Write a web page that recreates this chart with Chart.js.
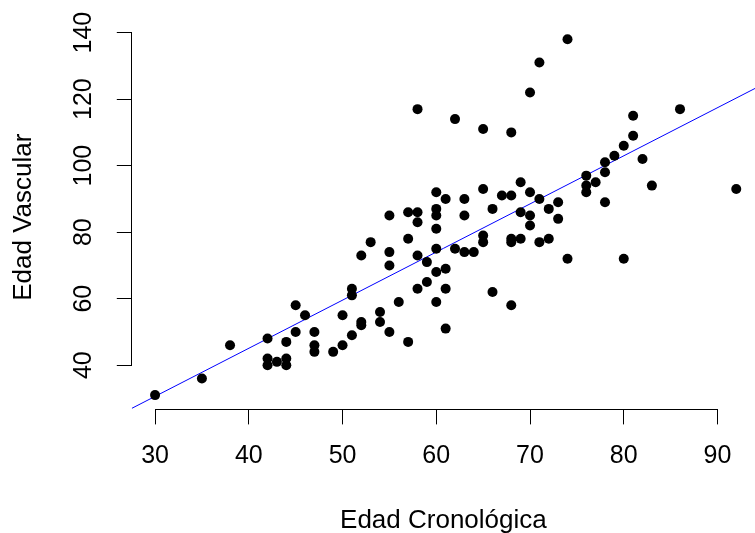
<!DOCTYPE html>
<html>
<head>
<meta charset="utf-8">
<script src="https://cdn.jsdelivr.net/npm/chart.js@4/dist/chart.umd.min.js"></script>
<style>
  html, body { margin: 0; padding: 0; background: #fff; overflow: hidden; }
  #grafico { display: block; }
</style>
</head>
<body>
<canvas id="grafico" width="755" height="533"></canvas>
<script>
// Datos: edad cronologica (x) y edad vascular (y)
const edadCronologica = [
  74, 71, 70, 58, 62, 65, 68, 86, 81, 81, 80, 79, 82, 78, 78, 76, 77, 76, 76, 83, 92, 78, 73, 73, 80, 74,
  60, 61, 63, 65, 67, 68, 69, 70, 71, 66, 69, 70, 72, 70, 55, 57, 58, 58, 60, 60, 60, 63,
  53, 52, 55, 55, 57, 58, 59, 60, 62, 63, 64, 65, 65, 68, 68, 69, 71, 72,
  60, 59, 61, 61, 58, 56, 60, 66, 68, 61, 51, 51, 50, 52, 52, 54, 54, 55, 57, 51, 50, 49,
  30, 35, 38, 42, 42, 42, 43, 44, 44, 44, 45, 45, 46, 47, 47, 47
];
const edadVascular = [
  138, 131, 122, 117, 114, 111, 110, 117, 115, 109, 106, 103, 102, 101, 98, 97, 95, 94, 92, 94, 93, 89, 89, 84, 72, 72,
  92, 90, 90, 93, 91, 91, 95, 92, 90, 87, 86, 85, 87, 82, 85, 86, 86, 83, 87, 85, 81, 85,
  77, 73, 74, 70, 78, 73, 71, 75, 75, 74, 74, 79, 77, 77, 78, 78, 77, 78,
  68, 65, 69, 63, 63, 59, 59, 62, 58, 51, 63, 61, 55, 53, 52, 56, 53, 50, 47, 49, 46, 44,
  31, 36, 46, 48, 42, 40, 41, 42, 40, 47, 58, 50, 55, 50, 46, 44
];

// Marcas de los ejes
const ticksX = [30, 40, 50, 60, 70, 80, 90];
const ticksY = [40, 60, 80, 100, 120, 140];

// Recta de regresion (abline)
const intercepto = -12.8;
const pendiente = 1.447;

// Limites de la zona de dibujo
const limitesX = [27.52, 94.0];
const limitesY = [26.7, 142.3];

const fuente = 'Liberation Sans, Arial, sans-serif';

const puntos = edadCronologica.map((x, i) => ({ x: x, y: edadVascular[i] }));
const recta = limitesX.map(x => ({ x: x, y: intercepto + pendiente * x }));

// La zona de dibujo llega hasta el borde derecho del lienzo (como en la imagen original)
const bordeDerecho = {
  id: 'bordeDerecho',
  afterLayout(chart) {
    const sx = chart.scales.x;
    const dif = chart.width - chart.chartArea.right;
    if (dif > 0) {
      chart.chartArea.right += dif;
      chart.chartArea.width += dif;
      sx.right += dif;
      sx.width += dif;
      sx.configure();
    }
  }
};

// Dibuja las lineas de los ejes solo entre la primera y la ultima marca (estilo R)
// y las etiquetas verticales del eje y
const ejesR = {
  id: 'ejesR',
  afterDraw(chart) {
    const ctx = chart.ctx;
    const sx = chart.scales.x;
    const sy = chart.scales.y;
    const area = chart.chartArea;
    ctx.save();
    ctx.strokeStyle = '#000';
    ctx.lineWidth = 1;
    ctx.beginPath();
    const yb = Math.round(area.bottom) + 0.5;
    ctx.moveTo(sx.getPixelForValue(ticksX[0]), yb);
    ctx.lineTo(sx.getPixelForValue(ticksX[ticksX.length - 1]), yb);
    const xl = Math.round(area.left) - 0.5;
    ctx.moveTo(xl, sy.getPixelForValue(ticksY[0]));
    ctx.lineTo(xl, sy.getPixelForValue(ticksY[ticksY.length - 1]));
    ctx.stroke();

    ctx.fillStyle = '#000';
    ctx.font = '25px ' + fuente;
    ctx.textAlign = 'center';
    ctx.textBaseline = 'middle';
    ticksY.forEach(v => {
      ctx.save();
      ctx.translate(84, sy.getPixelForValue(v));
      ctx.rotate(-Math.PI / 2);
      ctx.fillText(String(v), 0, 0);
      ctx.restore();
    });
    ctx.restore();
  }
};

new Chart(document.getElementById('grafico'), {
  type: 'scatter',
  data: {
    datasets: [
      {
        type: 'line',
        data: recta,
        borderColor: '#0000ff',
        borderWidth: 1,
        pointRadius: 0,
        fill: false,
        order: 2
      },
      {
        data: puntos,
        backgroundColor: '#000',
        borderColor: '#000',
        borderWidth: 0,
        pointRadius: 5,
        order: 1
      }
    ]
  },
  options: {
    responsive: false,
    animation: false,
    devicePixelRatio: 1,
    layout: { padding: { top: 25, right: 0, bottom: 0, left: 0 } },
    plugins: {
      legend: { display: false },
      tooltip: { enabled: false }
    },
    scales: {
      x: {
        type: 'linear',
        min: limitesX[0],
        max: limitesX[1],
        afterBuildTicks: s => { s.ticks = ticksX.map(v => ({ value: v })); },
        afterFit: s => { s.height = 123.6; },
        border: { display: false },
        grid: { drawOnChartArea: false, drawTicks: true, tickLength: 15, color: '#000', lineWidth: 1 },
        ticks: {
          color: '#000',
          font: { family: fuente, size: 25 },
          padding: 17,
          maxRotation: 0,
          minRotation: 0,
          callback: v => String(v)
        },
        title: {
          display: true,
          text: 'Edad Cronológica',
          color: '#000',
          font: { family: fuente, size: 26 },
          padding: { top: 0, bottom: -3 }
        }
      },
      y: {
        type: 'linear',
        min: limitesY[0],
        max: limitesY[1],
        afterBuildTicks: s => { s.ticks = ticksY.map(v => ({ value: v })); },
        afterFit: s => { s.width = 131.8; },
        border: { display: false },
        grid: { drawOnChartArea: false, drawTicks: true, tickLength: 15, color: '#000', lineWidth: 1 },
        ticks: { display: false },
        title: {
          display: true,
          text: 'Edad Vascular',
          color: '#000',
          font: { family: fuente, size: 26 },
          padding: { top: 8, bottom: 0 }
        }
      }
    }
  },
  plugins: [bordeDerecho, ejesR]
});
</script>
</body>
</html>
